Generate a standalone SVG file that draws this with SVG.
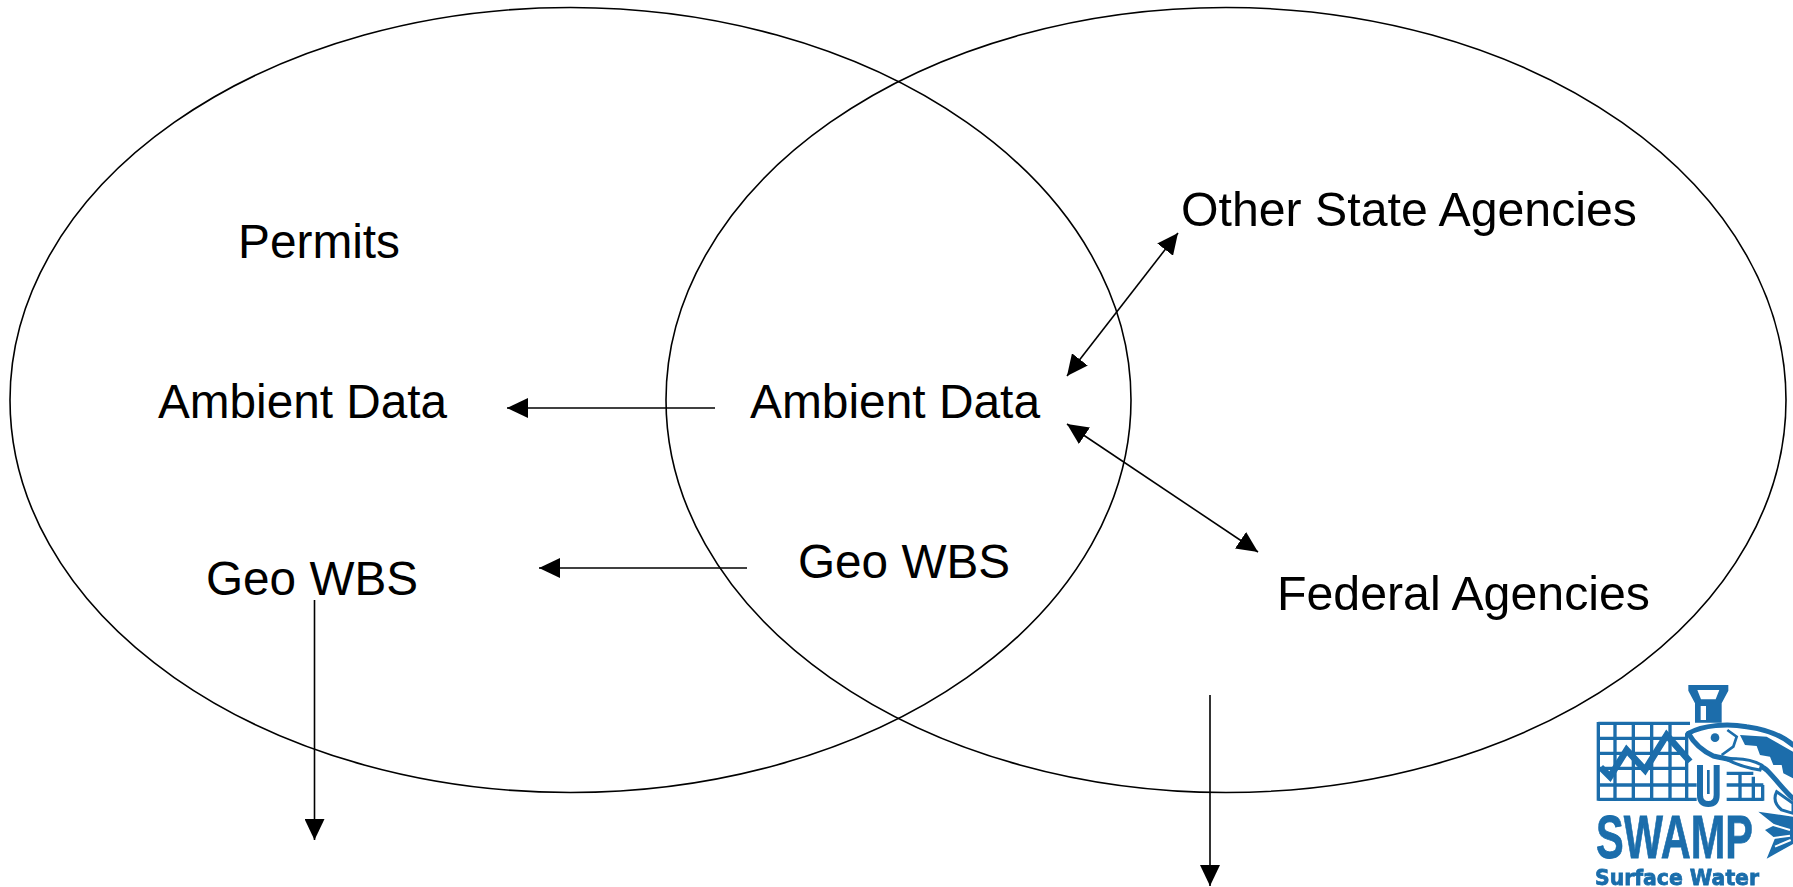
<svg xmlns="http://www.w3.org/2000/svg" width="1793" height="887" viewBox="0 0 1793 887">
<style>
.o{fill:none;stroke:#000;stroke-width:1.6}
.c{fill:none;stroke:#000;stroke-width:1.6}
.t{font-family:"Liberation Sans",Arial,sans-serif;font-size:48px;fill:#000}
.g{fill:none;stroke:#1a6dab;stroke-width:10}
.s{fill:none;stroke:#1a6dab;stroke-width:15;stroke-linejoin:round;stroke-linecap:round}
.w{fill:none;stroke:#fff;stroke-width:6}
.l{fill:#1a6dab}
.lt{font-family:"Liberation Sans",Arial,sans-serif;font-weight:bold;fill:#1a6dab;stroke:#1a6dab;stroke-width:.8}
</style>
<defs>
<marker id="a" viewBox="0 0 21 20" refX="21" refY="10" markerUnits="userSpaceOnUse" markerWidth="21" markerHeight="20" orient="auto-start-reverse"><path d="M0 0L21 10L0 20Z" fill="#000"/></marker>
<filter id="b" x="-5%" y="-5%" width="110%" height="110%"><feGaussianBlur stdDeviation="0.7"/></filter>
</defs>
<rect width="1793" height="887" fill="#fff"/>
<g id="ellipse-left"><ellipse class="o" cx="570.500" cy="400" rx="560.500" ry="392.500"/></g>
<g id="ellipse-right"><ellipse class="o" cx="1226" cy="400" rx="560" ry="392.500"/></g>
<g id="connectors">
<line class="c" x1="715" y1="408" x2="507" y2="408" marker-end="url(#a)"/>
<line class="c" x1="747" y1="568" x2="539" y2="568" marker-end="url(#a)"/>
<line class="c" x1="1178" y1="233" x2="1067" y2="376" marker-start="url(#a)" marker-end="url(#a)"/>
<line class="c" x1="1067" y1="424" x2="1258" y2="552" marker-start="url(#a)" marker-end="url(#a)"/>
<line class="c" x1="314.500" y1="600" x2="314.500" y2="840" marker-end="url(#a)"/>
<line class="c" x1="1210" y1="695" x2="1210" y2="886" marker-end="url(#a)"/>
</g>
<g id="node-permits"><text class="t" x="238" y="258" textLength="162" lengthAdjust="spacingAndGlyphs">Permits</text></g>
<g id="node-ambient-left"><text class="t" x="158" y="418" textLength="289" lengthAdjust="spacingAndGlyphs">Ambient Data</text></g>
<g id="node-geo-left"><text class="t" x="206" y="595" textLength="212" lengthAdjust="spacingAndGlyphs">Geo WBS</text></g>
<g id="node-ambient-mid"><text class="t" x="750" y="418" textLength="290" lengthAdjust="spacingAndGlyphs">Ambient Data</text></g>
<g id="node-geo-mid"><text class="t" x="798" y="578" textLength="212" lengthAdjust="spacingAndGlyphs">Geo WBS</text></g>
<g id="node-other"><text class="t" x="1181" y="226" textLength="456" lengthAdjust="spacingAndGlyphs">Other State Agencies</text></g>
<g id="node-federal"><text class="t" x="1277" y="610" textLength="373" lengthAdjust="spacingAndGlyphs">Federal Agencies</text></g>
<g id="logo">
<g filter="url(#b)">
<g transform="translate(1540 670) scale(.33333)">
<path class="g" d="M175 160H450M175 205H440M175 250H440M175 295H440M175 345H470M175 388H470M560 345H670M560 388H670M560 310H640"/>
<path class="g" d="M175 156V392M225 160V392M280 160V392M335 160V392M390 160V392M440 190V392M600 310V392M640 320V392M668 345V392"/>
<path d="M182 292L210 320L260 240L315 300L380 195L450 275" fill="none" stroke="#1a6dab" stroke-width="20"/>
<path class="l" d="M445 45H565V62L545 100V158H465V100L445 62Z"/>
<path d="M472 60H538L527 88L483 88Z" fill="#fff"/>
<path d="M482 108H498V150H482Z" fill="#fff"/>
<path d="M480 285V375Q480 402 505 402Q530 402 530 375V285" fill="none" stroke="#1a6dab" stroke-width="18"/>
<path d="M505 300V372" fill="none" stroke="#1a6dab" stroke-width="8"/>
<path d="M445 190C490 165 560 160 620 170C680 178 730 200 759 225V370C720 330 690 295 650 285L520 260Q470 230 445 190Z" fill="#fff"/>
<path class="s" d="M445 190C490 165 560 160 620 170C680 178 730 200 759 225"/>
<path class="s" d="M445 190Q470 235 520 258C590 275 650 275 680 300C710 330 735 365 759 385"/>
<path class="l" d="M600 195L680 200L759 245V325L730 310L725 285L700 285L690 260L660 255L650 228L615 225Z"/>
<path d="M562 180L590 200L580 230L545 255" fill="none" stroke="#1a6dab" stroke-width="8"/>
<circle class="l" cx="525" cy="203" r="13"/>
<path d="M560 268Q620 260 665 285L660 300Q600 290 560 268Z" fill="#fff" stroke="#1a6dab" stroke-width="9"/>
<path d="M710 365Q695 395 725 420L759 430V400Z" fill="#fff" stroke="#1a6dab" stroke-width="9"/>
<path class="l" d="M655 425L759 440V522L680 566L705 505L675 480L705 465Z"/>
<path d="M690 462L750 480M695 505L750 497M705 530L752 510" class="w"/>
</g>
<text class="lt" x="1596" y="858" font-size="62" textLength="157" lengthAdjust="spacingAndGlyphs" style="font-family:'Liberation Sans Narrow','Liberation Sans',sans-serif">SWAMP</text>
<text class="lt" x="1595" y="885" font-size="22" textLength="164" lengthAdjust="spacingAndGlyphs" style="font-family:'DejaVu Sans',sans-serif">Surface Water</text>
</g>
</g>
</svg>
